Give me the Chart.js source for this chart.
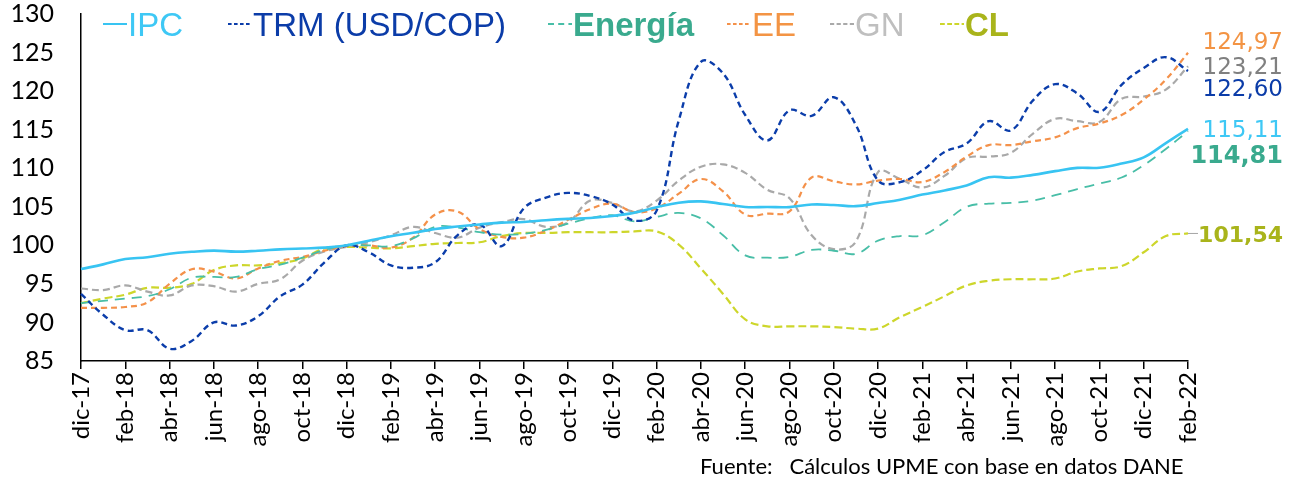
<!DOCTYPE html>
<html><head><meta charset="utf-8">
<script src="https://cdn.jsdelivr.net/npm/chart.js@4.4.1/dist/chart.umd.min.js"></script>
<style>html,body{margin:0;padding:0;background:#fff;}#wrap{width:1298px;height:482px;position:relative;}canvas{display:block;}</style>
</head><body><div id="wrap"><canvas id="c" width="1298" height="482" style="width:1298px;height:482px"></canvas></div>
<script>
const months = ['dic-17','ene-18','feb-18','mar-18','abr-18','may-18','jun-18','jul-18','ago-18','sep-18','oct-18','nov-18',
 'dic-18','ene-19','feb-19','mar-19','abr-19','may-19','jun-19','jul-19','ago-19','sep-19','oct-19','nov-19',
 'dic-19','ene-20','feb-20','mar-20','abr-20','may-20','jun-20','jul-20','ago-20','sep-20','oct-20','nov-20',
 'dic-20','ene-21','feb-21','mar-21','abr-21','may-21','jun-21','jul-21','ago-21','sep-21','oct-21','nov-21',
 'dic-21','ene-22','feb-22'];
const seriesNames = ['IPC','TRM (USD/COP)','Energía','EE','GN','CL'];
const ipc = [96.92,97.53,98.22,98.45,98.91,99.16,99.31,99.18,99.30,99.47,99.59,99.70,100.00,100.60,101.18,101.62,102.12,102.44,102.71,102.94,103.03,103.26,103.43,103.54,103.80,104.24,104.94,105.53,105.70,105.36,104.97,104.97,104.96,105.29,105.23,105.08,105.48,105.91,106.58,107.12,107.76,108.84,108.78,109.14,109.62,110.04,110.06,110.60,111.41,113.26,115.11];
const trm = [93.7,91.0,89.0,89.0,86.6,87.6,90.0,89.6,90.8,93.4,94.9,97.8,100.0,99.1,97.4,97.1,97.8,101.3,102.7,99.9,104.8,106.2,106.8,106.4,105.3,103.2,104.5,116.2,123.8,122.3,116.9,113.6,117.5,116.8,119.2,115.6,108.4,108.2,109.7,112.1,113.2,116.1,114.9,118.8,120.9,119.7,117.3,120.8,123.0,124.4,122.60];
const energia = [92.5,92.8,93.1,93.4,94.3,95.8,95.9,95.9,96.9,97.5,98.4,99.4,100.0,100.0,99.9,100.9,102.4,102.3,101.7,101.4,101.5,102.0,102.8,103.5,103.9,103.1,103.7,104.2,103.5,101.3,98.7,98.4,98.5,99.4,99.3,98.9,100.6,101.2,101.3,103.0,105.0,105.4,105.5,105.8,106.5,107.3,108.0,108.8,110.4,112.5,114.81];
const ee = [91.9,91.9,92.0,92.6,95.0,96.9,96.6,95.7,97.0,98.0,98.5,99.3,99.9,100.0,99.7,101.0,104.0,104.4,102.1,101.1,101.0,101.9,103.3,104.7,105.4,104.3,104.8,106.7,108.6,107.0,104.0,104.1,104.4,108.8,108.3,107.9,108.4,108.6,108.2,109.5,111.5,113.0,113.0,113.5,114.0,115.2,115.8,116.9,118.9,121.5,124.97];
const gn = [94.4,94.2,94.8,94.0,93.5,94.8,94.7,94.0,95.0,95.6,98.0,99.2,99.8,100.4,101.3,102.4,101.6,101.0,102.3,103.0,103.4,102.4,103.0,105.8,105.5,104.4,105.8,108.4,110.2,110.5,109.4,107.2,106.1,101.3,99.5,100.5,109.5,108.6,107.5,109.0,111.3,111.5,112.0,114.5,116.4,116.1,116.0,119.0,119.3,120.2,123.21];
const cl = [92.5,93.1,93.6,94.5,94.5,95.0,96.8,97.4,97.4,97.7,98.3,99.6,99.8,99.7,99.6,99.9,100.2,100.3,100.4,101.2,101.6,101.6,101.7,101.7,101.7,101.8,101.8,100.1,97.0,93.7,90.4,89.5,89.5,89.5,89.4,89.2,89.2,90.7,92.0,93.4,94.8,95.4,95.6,95.6,95.7,96.6,97.0,97.3,99.1,101.2,101.54];
const yTicks = [85,90,95,100,105,110,115,120,125,130];
const sourceText = 'Fuente:   Cálculos UPME con base en datos DANE';

const styles = [
 {line:'#38C4F2', width:2.6, dash:[], text:'#3EC8F5', bold:false, lx:103, endColor:'#3EC8F5', endBold:false, endSize:23, dy:2, leader:false},
 {line:'#0B3DAA', width:2.4, dash:[6,4], text:'#0B3CA8', bold:false, lx:228, endColor:'#0B3CA8', endBold:false, endSize:23, dy:19, leader:false},
 {line:'#48BEA7', width:1.8, dash:[10,7], text:'#3AAA8E', bold:true, lx:548, endColor:'#3AAA8E', endBold:true, endSize:24, dy:26, leader:false},
 {line:'#F4914A', width:2.2, dash:[6,4], text:'#F39444', bold:false, lx:727, endColor:'#F39444', endBold:false, endSize:23, dy:-10, leader:false},
 {line:'#A9A9A9', width:2.2, dash:[7,4], text:'#BFBFBF', bold:false, lx:830, endColor:'#808080', endBold:false, endSize:23, dy:2, leader:false},
 {line:'#CDD62B', width:2.2, dash:[8,4], text:'#A9B41B', bold:true, lx:940, endColor:'#A9B41B', endBold:true, endSize:22, dy:3, leader:true}
];
const seriesData = [ipc, trm, energia, ee, gn, cl];
const AREA = {left:81, top:14, right:1188, bottom:361};

const legendPlugin = {
  id:'customLegend',
  afterDraw(chart){
    const ctx = chart.ctx;
    ctx.save();
    seriesNames.forEach((name,i)=>{
      const s = styles[i];
      ctx.beginPath();
      ctx.setLineDash(s.dash.length? s.dash.map(v=>v*0.6):[]);
      ctx.strokeStyle = s.line; ctx.lineWidth = 2;
      ctx.moveTo(s.lx, 24); ctx.lineTo(s.lx+24, 24); ctx.stroke();
      ctx.setLineDash([]);
      ctx.font = (s.bold?'bold ':'') + '33px "Liberation Sans", Arial, sans-serif';
      ctx.fillStyle = s.text; ctx.textBaseline = 'alphabetic'; ctx.textAlign='left';
      ctx.fillText(name, s.lx+25, 36);
    });
    ctx.restore();
  }
};
const endLabelPlugin = {
  id:'endLabels',
  afterDatasetsDraw(chart){
    const ctx = chart.ctx, ys = chart.scales.y, xs = chart.scales.x;
    ctx.save();
    seriesData.forEach((arr,i)=>{
      const s = styles[i];
      const v = arr[arr.length-1];
      const py = ys.getPixelForValue(v);
      const y = py + s.dy;
      if (s.leader) {
        const px = xs.getPixelForValue(arr.length-1);
        ctx.beginPath(); ctx.strokeStyle = '#A6A6A6'; ctx.lineWidth = 1;
        ctx.moveTo(px, py); ctx.lineTo(px + 10, py); ctx.stroke();
      }
      ctx.font = (s.endBold?'bold ':'') + s.endSize + 'px "DejaVu Sans", sans-serif';
      ctx.fillStyle = s.endColor; ctx.textAlign='right'; ctx.textBaseline='middle';
      ctx.fillText(v.toFixed(2).replace('.',','), 1283, y);
    });
    ctx.fillStyle = '#000'; ctx.textAlign='left'; ctx.textBaseline='middle';
    ctx.font = '22px Lato, sans-serif';
    ctx.fillText(sourceText, 700, 467);
    ctx.restore();
  }
};

const chart = new Chart(document.getElementById('c'), {
  type:'line',
  data:{labels:months, datasets: seriesData.map((d,i)=>({
    label: seriesNames[i], data:d, borderColor:styles[i].line, borderWidth:styles[i].width,
    borderDash:styles[i].dash, pointRadius:0, fill:false, tension:0.4
  }))},
  options:{
    responsive:false, animation:false, devicePixelRatio:1,
    layout:{padding:{top:AREA.top,right:1298-AREA.right,left:0,bottom:0}},
    plugins:{legend:{display:false}, title:{display:false}, tooltip:{enabled:false}},
    scales:{
      x:{offset:false,
        grid:{display:true, drawOnChartArea:false, drawTicks:true, tickLength:8, color:'#000', lineWidth:1.5},
        border:{display:true, color:'#000', width:1.5},
        ticks:{autoSkip:false, maxRotation:90, minRotation:90, padding:3, color:'#000',
          font:{family:'Lato', size:24}, callback:(v,i)=> i%2===0 ? months[i] : null},
        afterFit:(s)=>{ s.height = 482 - AREA.bottom; }
      },
      y:{min:85, max:130,
        afterBuildTicks:(s)=>{ s.ticks = yTicks.map(v=>({value:v})); },
        ticks:{color:'#000', font:{family:'Lato', size:25, lineHeight:1}, padding:0},
        grid:{display:false, drawTicks:true, tickLength:27},
        border:{display:true, color:'#000', width:1.5},
        afterFit:(s)=>{ s.width = AREA.left; }
      }
    }
  },
  plugins:[legendPlugin, endLabelPlugin]
});
</script></body></html>
